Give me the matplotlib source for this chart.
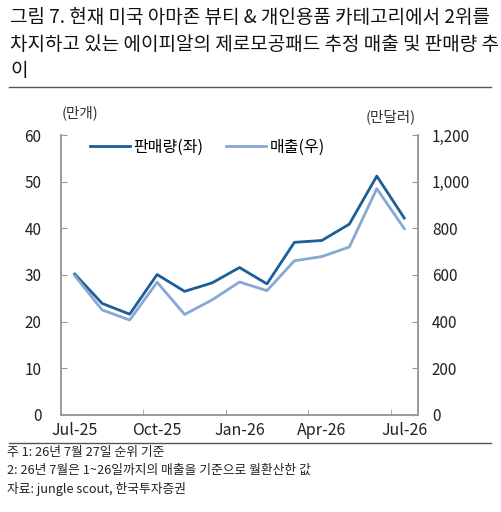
import matplotlib
matplotlib.use("Agg")
import matplotlib.pyplot as plt
import numpy as np

plt.rcParams['font.family'] = ['Noto Sans CJK KR', 'DejaVu Sans']

months = ['Jul-25', 'Aug-25', 'Sep-25', 'Oct-25', 'Nov-25', 'Dec-25', 'Jan-26',
          'Feb-26', 'Mar-26', 'Apr-26', 'May-26', 'Jun-26', 'Jul-26']
volume = [30.2, 23.9, 21.6, 30.1, 26.5, 28.3, 31.6, 28.1, 37.0, 37.4, 40.9, 51.2, 42.2]   # 만개
sales = [597, 450, 407, 569, 431, 493, 570, 533, 661, 679, 720, 970, 799]                # 만달러
shown_labels = ['Jul-25', 'Oct-25', 'Jan-26', 'Apr-26', 'Jul-26']

dark = '#1b5e98'
light = '#88a7d4'
axcol = '#9a9a9a'

fig = plt.figure(figsize=(5.01, 5.12), dpi=100)
ax = fig.add_axes([0.1218, 0.1895, 0.7125, 0.5468])
ax2 = ax.twinx()

x = np.arange(len(months))
l1, = ax.plot(x, volume, color=dark, lw=2.0, label='판매량(좌)')
l2, = ax2.plot(x, sales, color=light, lw=2.0, label='매출(우)')

ax.set_xlim(-0.5, len(months) - 0.5)
ax.set_ylim(0, 60)
ax2.set_ylim(0, 1200)
ax.set_yticks(range(0, 61, 10))
ax2.set_yticks(range(0, 1201, 200))
ax2.set_yticklabels([f'{v:,}' for v in range(0, 1201, 200)])

# 라벨은 범주 중앙, 눈금은 범주 경계
lab_pos = [months.index(m) for m in shown_labels]
ax.set_xticks(lab_pos)
ax.set_xticklabels(shown_labels)
ax.set_xticks([2.5, 5.5, 8.5, 11.5], minor=True)
ax.tick_params(axis='x', which='major', length=0, labelsize=11.5, pad=5, colors='#222222')
ax.tick_params(axis='x', which='minor', direction='in', length=4, color=axcol)

ax.tick_params(axis='y', direction='in', length=4, color=axcol, labelsize=11, pad=14, labelcolor='#222222')
ax2.tick_params(axis='y', direction='in', length=4, color=axcol, labelsize=11, pad=10, labelcolor='#222222')

for a in (ax, ax2):
    a.spines['top'].set_visible(False)
    for s in ('left', 'right', 'bottom'):
        a.spines[s].set_color(axcol)
        a.spines[s].set_linewidth(1.2)

leg = ax.legend(handles=[l1, l2], loc='upper left', bbox_to_anchor=(0.04, 1.037), ncol=2,
                frameon=False, fontsize=11.5, handlelength=2.5, handletextpad=0.25,
                columnspacing=1.4)

fig.text(0.16, 0.779, '(만개)', fontsize=10.5, ha='center', va='center', color='#333333')
fig.text(0.78, 0.771, '(만달러)', fontsize=10.5, ha='center', va='center', color='#333333')

title_lines = ['그림 7. 현재 미국 아마존 뷰티 & 개인용품 카테고리에서 2위를',
               '차지하고 있는 에이피알의 제로모공패드 추정 매출 및 판매량 추',
               '이']
# 첫 줄 폭을 약 480px에 맞춤
renderer = fig.canvas.get_renderer()
probe = fig.text(0, 0, title_lines[0], fontsize=14)
w = probe.get_window_extent(renderer).width
probe.remove()
tfs = 14 * 480 / w
for i, t in enumerate(title_lines):
    fig.text(0.02, 0.965 - i * 0.051, t, fontsize=tfs, ha='left', va='center', color='#111111')

fig.add_artist(plt.Line2D([0.018, 0.98], [0.830, 0.830], color='#555555', lw=1.0))
fig.add_artist(plt.Line2D([0.018, 0.98], [0.135, 0.135], color='#555555', lw=1.0))

notes = ['주 1: 26년 7월 27일 순위 기준',
         '2: 26년 7월은 1~26일까지의 매출을 기준으로 월환산한 값',
         '자료: jungle scout, 한국투자증권']
for i, n in enumerate(notes):
    fig.text(0.014, 0.117 - i * 0.036, n, fontsize=9.2, ha='left', va='center', color='#222222')

fig.savefig('out.png', dpi=100)
